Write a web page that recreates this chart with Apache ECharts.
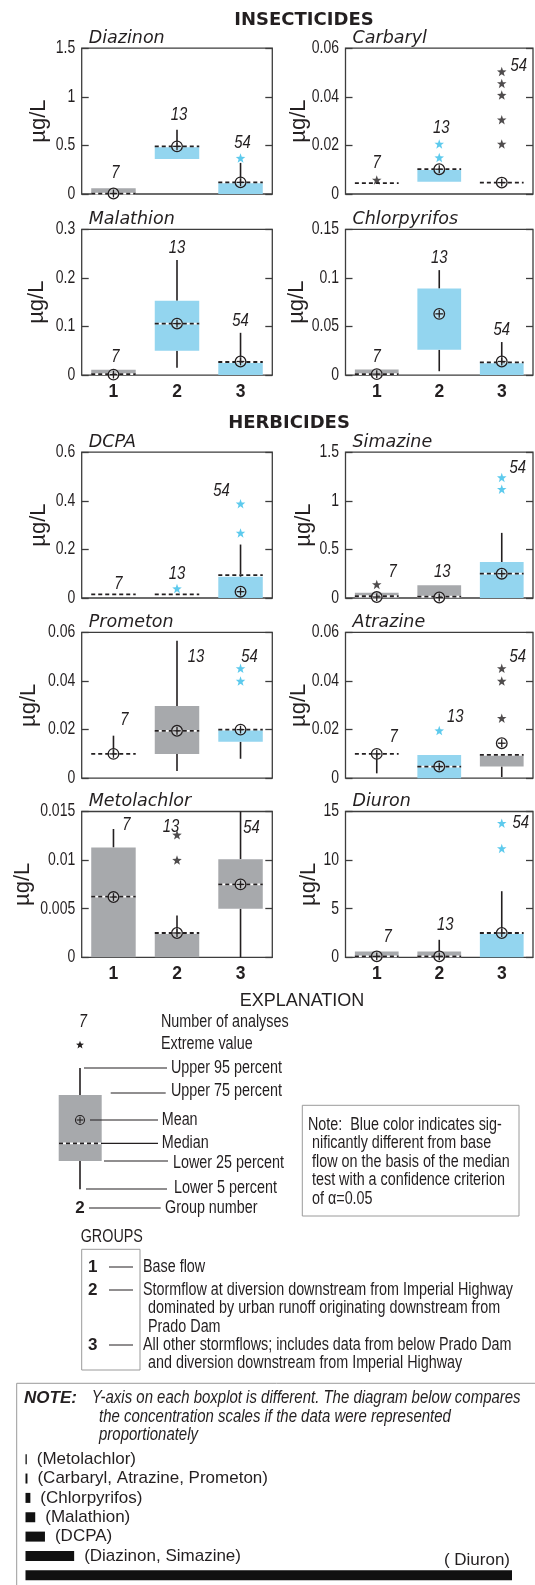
<!DOCTYPE html>
<html>
<head>
<meta charset="utf-8">
<title>Pesticide concentrations by group</title>
<script src="https://cdn.jsdelivr.net/npm/echarts/dist/echarts.min.js"></script>
<style>
  html, body { margin: 0; padding: 0; background: #fff; }
  #chart { width: 535px; height: 1585px; }
</style>
</head>
<body>
<div id="chart"></div>
<script>
// ---------------- data ----------------
const sectionTitles = ['INSECTICIDES', 'HERBICIDES'];
const compounds = ['Diazinon', 'Carbaryl', 'Malathion', 'Chlorpyrifos', 'DCPA',
                   'Simazine', 'Prometon', 'Atrazine', 'Metolachlor', 'Diuron'];
const groupNumbers = ['1', '2', '3'];
const analysisCounts = ['7', '13', '54'];

// y-axis range of each boxplot, µg/L
const yMax  = [1.5, 0.06, 0.3, 0.15, 0.6, 1.5, 0.06, 0.06, 0.015, 15];
const yStep = [0.5, 0.02, 0.1, 0.05, 0.2, 0.5, 0.02, 0.02, 0.005, 5];
// tick values of each y axis
const yTicks = yMax.map((m, i) => {
  const n = Math.round(m / yStep[i]);
  return Array.from({ length: n + 1 }, (_, k) => +(k * yStep[i]).toFixed(6));
});

// percentiles per compound, per group (null = not shown)
const p5 = [
  [null, null, null], [null, null, null], [null, 0.015, null], [null, 0.004, null],
  [null, null, null], [null, null, null], [null, 0.003, 0.008], [0.002, null, 0.0005],
  [null, null, 0], [null, null, null]
];
const p25 = [
  [0, 0.36, 0], [null, 0.005, null], [0, 0.05, 0], [0, 0.026, 0],
  [null, null, 0], [0, 0, 0], [null, 0.01, 0.015], [null, 0, 0.0048],
  [0, 0, 0.005], [0, 0, 0]
];
const median = [
  [0.003, 0.49, 0.12], [0.0045, 0.0102, 0.0047], [0.002, 0.106, 0.027], [0.001, null, 0.013],
  [0.015, 0.015, 0.094], [0.018, 0.015, 0.25], [0.01, 0.0195, 0.02], [0.01, 0.0048, 0.0096],
  [0.00625, 0.0025, 0.0075], [0.1, 0.1, 2.5]
];
const p75 = [
  [0.058, 0.49, 0.12], [null, 0.0102, null], [0.011, 0.153, 0.027], [0.0058, 0.089, 0.013],
  [null, null, 0.087], [0.054, 0.13, 0.37], [null, 0.0297, 0.02], [null, 0.0095, 0.0096],
  [0.0113, 0.0024, 0.0101], [0.6, 0.6, 2.52]
];
const p95 = [
  [null, 0.66, 0.32], [null, null, null], [null, 0.237, 0.087], [null, 0.108, 0.034],
  [null, null, 0.22], [null, null, 0.67], [0.0175, 0.0566, null], [null, null, null],
  [0.0132, 0.0043, 0.015], [null, 1.8, 6.8]
];
const mean = [
  [0.005, 0.49, 0.12], [null, 0.0102, 0.0047], [0.001, 0.106, 0.028], [0.001, 0.063, 0.014],
  [null, null, 0.026], [0.01, 0.005, 0.25], [0.01, 0.0195, 0.02], [0.01, 0.0048, 0.0144],
  [0.0062, 0.0025, 0.0075], [0.1, 0.1, 2.5]
];
// 1 = significantly different from base flow (median test, alpha 0.05)
const significant = [
  [0, 1, 1], [0, 1, 0], [0, 1, 1], [0, 1, 1], [0, 0, 1],
  [0, 0, 1], [0, 0, 1], [0, 1, 0], [0, 0, 0], [0, 0, 1]
];
// extreme values: [group index, value, significant]
const extremes = [
  [[2, 0.37, 1]],
  [[0, 0.0058, 0], [1, 0.015, 1], [1, 0.0206, 1], [2, 0.0206, 0], [2, 0.0306, 0], [2, 0.0407, 0], [2, 0.0455, 0], [2, 0.0504, 0]],
  [],
  [],
  [[1, 0.039, 1], [2, 0.268, 1], [2, 0.388, 1]],
  [[0, 0.14, 0], [2, 1.12, 1], [2, 1.24, 1]],
  [[2, 0.04, 1], [2, 0.0452, 1]],
  [[1, 0.0196, 1], [2, 0.0247, 0], [2, 0.04, 0], [2, 0.0452, 0]],
  [[1, 0.01, 0], [1, 0.0126, 0]],
  [[2, 11.2, 1], [2, 13.8, 1]]
];
// height at which the number of analyses is written
const countAt = [
  [0.21, 0.81, 0.52], [0.0128, 0.027, 0.0527], [0.037, 0.261, 0.112], [0.019, 0.12, 0.046],
  [0.058, 0.1, 0.439], [0.27, 0.27, 1.34], [0.024, 0.05, 0.05], [0.017, 0.0253, 0.05],
  [0.0136, 0.0134, 0.0133], [2.07, 3.35, 13.8]
];

// proportional scale comparison
const scaleNames = ['(Metolachlor)', '(Carbaryl, Atrazine, Prometon)', '(Chlorpyrifos)',
                    '(Malathion)', '(DCPA)', '(Diazinon, Simazine)', '( Diuron)'];
const scaleOf = [8, 1, 3, 2, 4, 0, 9];   // which plot's axis range each bar shows

// ---------------- layout & style ----------------
const GRAY = '#a7a9ac', BLUE = '#93d5ef', STAR_BLUE = '#35bde9', INK = '#231f20', FRAME = '#3d3d3d';
const SANS = '"Liberation Sans",Arial,sans-serif';
const DEJAVU = '"DejaVu Sans",sans-serif';
const NARROW_SCALE = 0.82;   // horizontal squeeze that gives the condensed lettering

const colLeft = [81.7, 345.5], colWidth = [190.6, 187.5];
const rowTop = [48.2, 229.3, 452.2, 632.4, 811.5], plotH = 145.8;
const unitGap = [43, 47, 45, 48.5, 43, 42, 52.5, 47, 58.5, 37];     // µg/L label distance from axis
const countShift = [                                                // horizontal nudge of counts, px
  [2, 2, 2], [0, 2, 17], [2, 0, 0], [0, 0, 0], [5, 0, -19],
  [16, 3, 16], [11, 19, 9], [17, 16, 16], [13, -6, 11], [11, 6, 19]
];
const STAR = 'path://M0,-10L2.4,-3.3L9.5,-3.1L3.9,1.3L5.9,8.1L0,4.1L-5.9,8.1L-3.9,1.3L-9.5,-3.1L-2.4,-3.3Z';

function rect(i) {
  const r = Math.floor(i / 2), c = i % 2;
  return { left: colLeft[c], top: rowTop[r], width: colWidth[c], height: plotH };
}

function boxRenderer(ci) {
  return function (params, api) {
    const g = params.dataIndex;
    const cx = api.coord([g, 0])[0];
    const half = api.size([1, 0])[0] * 0.35;
    const py = v => api.coord([g, v])[1];
    const lo = p25[ci][g], hi = p75[ci][g], med = median[ci][g], mn = mean[ci][g];
    const up = hi ?? med ?? mn, down = lo ?? med ?? mn;
    const kids = [];
    const whisker = (a, b) => kids.push({
      type: 'line', shape: { x1: cx, y1: py(a), x2: cx, y2: py(b) },
      style: { stroke: INK, lineWidth: 1.6 }
    });
    if (p95[ci][g] != null) whisker(up, p95[ci][g]);
    if (p5[ci][g] != null) whisker(down, p5[ci][g]);
    if (lo != null && hi != null) {
      kids.push({
        type: 'rect',
        shape: { x: cx - half, y: py(hi), width: half * 2, height: py(lo) - py(hi) },
        style: { fill: significant[ci][g] ? BLUE : GRAY }
      });
    }
    if (med != null) {
      const ym = py(med);
      if (lo != null) kids.push({ type: 'line', shape: { x1: cx - half, y1: ym, x2: cx + half, y2: ym },
        style: { stroke: '#fff', lineWidth: 1.8 } });
      kids.push({ type: 'line', shape: { x1: cx - half, y1: ym, x2: cx + half, y2: ym },
        style: { stroke: INK, lineWidth: 1.8, lineDash: [4, 3] } });
    }
    if (mn != null) {
      const ym = py(mn), r = 5.3;
      kids.push({ type: 'circle', shape: { cx: cx, cy: ym, r: r },
        style: { fill: 'rgba(255,255,255,0.35)', stroke: INK, lineWidth: 1.3 } });
      kids.push({ type: 'line', shape: { x1: cx - r + 1.4, y1: ym, x2: cx + r - 1.4, y2: ym },
        style: { stroke: INK, lineWidth: 1.3 } });
      kids.push({ type: 'line', shape: { x1: cx, y1: ym - r + 1.4, x2: cx, y2: ym + r - 1.4 },
        style: { stroke: INK, lineWidth: 1.3 } });
    }
    kids.push({
      type: 'text', x: cx + countShift[ci][g], y: py(countAt[ci][g]), scaleX: 0.85,
      style: { text: analysisCounts[g], font: 'italic 17.5px ' + SANS, fill: INK,
               align: 'center', verticalAlign: 'middle' }
    });
    return { type: 'group', children: kids };
  };
}

// tick labels in condensed lettering, placed on the y scale of each plot
function tickRenderer(params, api) {
  const v = api.value(1);
  const p = api.coord([0, v]);
  const left = p[0] - api.size([1, 0])[0] / 2;
  return {
    type: 'text', x: left - 6.5, y: p[1], scaleX: 0.8,
    style: { text: String(v), font: '17.5px ' + SANS, fill: INK, align: 'right', verticalAlign: 'middle' }
  };
}

const grid = [], xAxis = [], yAxis = [], series = [];
compounds.forEach((name, i) => {
  grid.push(Object.assign({ show: true, borderColor: FRAME, borderWidth: 1.3, containLabel: false }, rect(i)));
  const bottomRow = i === 2 || i === 3 || i === 8 || i === 9;
  xAxis.push({
    type: 'category', gridIndex: i, data: groupNumbers,
    axisLine: { show: false }, axisTick: { show: false }, splitLine: { show: false },
    axisLabel: { show: bottomRow, margin: 8, color: INK, fontFamily: SANS, fontWeight: 'bold', fontSize: 17.5 }
  });
  const yBase = {
    type: 'value', gridIndex: i, min: 0, max: yMax[i], interval: yStep[i],
    axisLine: { show: false }, splitLine: { show: false }, axisLabel: { show: false },
    axisTick: { show: true, inside: true, length: 7, lineStyle: { color: FRAME, width: 1.3 } }
  };
  yAxis.push(Object.assign({}, yBase, { position: 'left' }));
  yAxis.push(Object.assign({}, yBase, { position: 'right' }));
  series.push({
    type: 'custom', xAxisIndex: i, yAxisIndex: 2 * i, clip: false, silent: true,
    renderItem: tickRenderer,
    data: yTicks[i].map(v => [0, v])
  });
  series.push({
    type: 'custom', xAxisIndex: i, yAxisIndex: 2 * i, clip: false,
    renderItem: boxRenderer(i),
    data: groupNumbers.map((_, g) => [g, p75[i][g] ?? median[i][g] ?? mean[i][g]]),
    silent: true, z: 2
  });
  series.push({
    type: 'scatter', xAxisIndex: i, yAxisIndex: 2 * i, symbol: STAR, symbolSize: 9.5,
    data: extremes[i].map(e => ({ value: [e[0], e[1]], itemStyle: { color: e[2] ? STAR_BLUE : INK } })),
    silent: true, z: 4
  });
});

// scale comparison bars
const SC = compounds.length;
grid.push({ left: 25.5, top: 1449.5, width: 486.5, height: 138, show: false });
xAxis.push({ type: 'value', gridIndex: SC, min: 0, max: yMax[9], show: false });
yAxis.push({ type: 'category', gridIndex: SC, inverse: true, data: scaleNames, show: false });
series.push({
  type: 'bar', xAxisIndex: SC, yAxisIndex: 2 * SC, barWidth: 10, barMinHeight: 1.3,
  itemStyle: { color: '#111' }, silent: true,
  data: scaleOf.map((k, j) => {
    const item = { value: yMax[k] };
    item.label = j === scaleOf.length - 1
      ? { show: true, position: 'insideRight', distance: 2, offset: [0, -15.5], formatter: '{b}' }
      : { show: true, position: 'right', distance: 10, formatter: '{b}' };
    return item;
  }),
  label: { color: INK, fontFamily: SANS, fontSize: 17 }
});

// ---------------- titles, units and explanation ----------------
const els = [];
const T = (x, y, text, font, extra, squeeze) => els.push({
  type: 'text', x: x, y: y, silent: true, scaleX: squeeze || 1,
  style: Object.assign({ text: text, font: font, fill: INK, align: 'left', verticalAlign: 'middle' }, extra || {})
});
const N = (x, y, text, font, extra) => T(x, y, text, font, extra, NARROW_SCALE);
const L = (x1, y1, x2, y2, w, extra) => els.push({
  type: 'line', silent: true, shape: { x1: x1, y1: y1, x2: x2, y2: y2 },
  style: Object.assign({ stroke: INK, lineWidth: w || 1.2 }, extra || {})
});
const R = (x, y, w, h, style) => els.push({ type: 'rect', silent: true, shape: { x: x, y: y, width: w, height: h }, style: style });
function starPoints(cx, cy, rOut) {
  const pts = [];
  for (let k = 0; k < 10; k++) {
    const a = -Math.PI / 2 + k * Math.PI / 5, rr = k % 2 ? rOut * 0.42 : rOut;
    pts.push([cx + rr * Math.cos(a), cy + rr * Math.sin(a)]);
  }
  return pts;
}

T(304, 20, sectionTitles[0], 'bold 18px ' + DEJAVU, { align: 'center' });
T(289, 423, sectionTitles[1], 'bold 18px ' + DEJAVU, { align: 'center' });

compounds.forEach((name, i) => {
  const r = rect(i);
  T(r.left + 7, r.top - 10, name, 'italic 17.5px ' + DEJAVU);
  els.push({
    type: 'text', x: r.left - unitGap[i], y: r.top + plotH / 2, rotation: Math.PI / 2, silent: true,
    style: { text: 'µg/L', font: '22px ' + SANS, fill: INK, align: 'center', verticalAlign: 'middle' }
  });
});

// explanation
const EX = '17.5px ' + SANS;
T(302, 1001, 'EXPLANATION', '18px ' + SANS, { align: 'center' });
N(83, 1022, analysisCounts[0], 'italic 17.5px ' + SANS, { align: 'center' });
N(161, 1022, 'Number of analyses', EX);
els.push({ type: 'polygon', silent: true, shape: { points: starPoints(80, 1045, 4.2) }, style: { fill: INK } });
N(161, 1044, 'Extreme value', EX);
L(80, 1068, 80, 1095, 1.6);
L(84, 1068, 167, 1068);
N(171, 1068, 'Upper 95 percent', EX);
R(58.7, 1095, 43, 66, { fill: GRAY });
L(110.7, 1093, 165.7, 1093);
N(171, 1091, 'Upper 75 percent', EX);
els.push({ type: 'circle', silent: true, shape: { cx: 80, cy: 1120, r: 4.5 }, style: { fill: 'none', stroke: INK, lineWidth: 1.1 } });
L(76.8, 1120, 83.2, 1120, 1.1);
L(80, 1116.8, 80, 1123.2, 1.1);
L(90, 1120, 158, 1120);
N(161.7, 1120, 'Mean', EX);
L(59, 1143.3, 101, 1143.3, 1.8, { stroke: '#fff' });
L(59, 1143.3, 101, 1143.3, 1.8, { lineDash: [4, 3] });
L(101, 1143.3, 158, 1143.3);
N(161.7, 1143, 'Median', EX);
L(104, 1161, 168, 1161);
N(173, 1163, 'Lower 25 percent', EX);
L(80, 1161, 80, 1189.3, 1.6);
L(86, 1189, 167, 1189);
N(174, 1188, 'Lower 5 percent', EX);
T(80, 1208, groupNumbers[1], 'bold 17px ' + SANS, { align: 'center' });
L(89, 1208, 160.7, 1208);
N(165, 1208, 'Group number', EX);

R(302.3, 1105.3, 216.7, 110.7, { fill: 'none', stroke: '#9a9a9a', lineWidth: 1 });
N(308, 1125, 'Note:  Blue color indicates sig-', EX);
N(312, 1143.3, 'nificantly different from base', EX);
N(312, 1162, 'flow on the basis of the median', EX);
N(312, 1180.3, 'test with a confidence criterion', EX);
N(312, 1199, 'of α=0.05', EX);

N(80.7, 1236.7, 'GROUPS', EX);
R(81.7, 1249.3, 58.3, 120.7, { fill: 'none', stroke: '#9a9a9a', lineWidth: 1 });
T(92.7, 1267, groupNumbers[0], 'bold 17px ' + SANS, { align: 'center' });
L(109, 1267, 133, 1267, 1);
N(143, 1267, 'Base flow', EX);
T(92.7, 1290, groupNumbers[1], 'bold 17px ' + SANS, { align: 'center' });
L(109, 1290, 133, 1290, 1);
N(143, 1290, 'Stormflow at diversion downstream from Imperial Highway', EX);
N(148, 1308.3, 'dominated by urban runoff originating downstream from', EX);
N(148, 1326.7, 'Prado Dam', EX);
T(92.7, 1345, groupNumbers[2], 'bold 17px ' + SANS, { align: 'center' });
L(109, 1345, 133, 1345, 1);
N(143, 1345, 'All other stormflows; includes data from below Prado Dam', EX);
N(148, 1363.3, 'and diversion downstream from Imperial Highway', EX);

R(16.7, 1383.3, 530, 220, { fill: 'none', stroke: '#9a9a9a', lineWidth: 1 });
T(24, 1398.3, 'NOTE:', 'italic bold 17px ' + SANS);
T(91.7, 1398, 'Y-axis on each boxplot is different. The diagram below compares', 'italic ' + EX, null, 0.855);
T(99, 1416.7, 'the concentration scales if the data were represented', 'italic ' + EX, null, 0.855);
T(99, 1435, 'proportionately', 'italic ' + EX, null, 0.855);

const chart = echarts.init(document.getElementById('chart'), null, { renderer: 'canvas' });
chart.setOption({
  animation: false,
  backgroundColor: '#fff',
  grid: grid, xAxis: xAxis, yAxis: yAxis, series: series,
  graphic: { elements: els }
});
</script>
</body>
</html>
